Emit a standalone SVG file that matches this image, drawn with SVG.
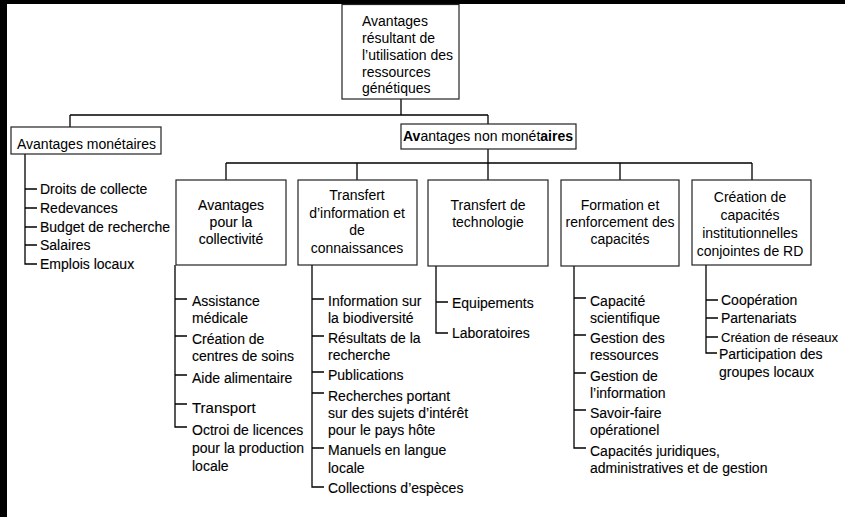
<svg xmlns="http://www.w3.org/2000/svg" width="845" height="517" viewBox="0 0 845 517">
<style>
text{font-family:"Liberation Sans",Arial,Helvetica,sans-serif;font-size:14px;fill:#000}
.c{text-anchor:middle}
.i{stroke:#000;stroke-width:0.12}
.box{fill:#fff;stroke:#222;stroke-width:1.2}
.ln{fill:none;stroke:#000;stroke-width:1.3}
</style>
<rect x="0" y="0" width="845" height="517" fill="#fff"/>
<rect x="0" y="0" width="7" height="517" fill="#000"/>
<rect x="0" y="0" width="845" height="4" fill="#000"/>

<g id="connectors" class="ln">
<path d="M401 99V115M70 115H488M70 115V127M488 115V124"/>
<path d="M488 149V163M226 163H752M226 163V180M357 163V180M488 163V180M620 163V180M752 163V180"/>
<path d="M25 154V264H37M25 189H37M25 208H37M25 227H37M25 245H37"/>
<path d="M175 265V427H187M175 299H187M175 336H187M175 375H187M175 404H187"/>
<path d="M312 265V487H324M312 299H324M312 336H324M312 372H324M312 393H324M312 448H324"/>
<path d="M436 266V333H448M436 302H448"/>
<path d="M574 266V448H586M574 298H586M574 335H586M574 373H586M574 410H586"/>
<path d="M706 265V353H717M706 300H718M706 318H718M706 337H718"/>
</g>

<g id="root">
<rect class="box" x="342" y="4.5" width="117" height="94.5"/>
<text x="362" y="26">Avantages</text>
<text x="362" y="43">résultant de</text>
<text x="362" y="60">l’utilisation des</text>
<text x="362" y="77">ressources</text>
<text x="362" y="93">génétiques</text>
</g>

<g id="monetaires">
<rect class="box" x="11" y="127" width="150" height="27"/>
<text x="17" y="149">Avantages monétaires</text>
<text class="i" x="40" y="194">Droits de collecte</text>
<text class="i" x="40" y="213">Redevances</text>
<text class="i" x="40" y="232">Budget de recherche</text>
<text class="i" x="40" y="250">Salaires</text>
<text class="i" x="40" y="269">Emplois locaux</text>
</g>

<g id="non-monetaires">
<rect class="box" x="401" y="124" width="175" height="25"/>
<text class="c" x="488" y="141"><tspan font-weight="bold">Av</tspan>antages non monét<tspan font-weight="bold">aires</tspan></text>
</g>

<g id="collectivite">
<rect class="box" x="176" y="180" width="110" height="85"/>
<text class="c i" x="231" y="210">Avantages</text>
<text class="c i" x="231" y="227">pour la</text>
<text class="c i" x="231" y="244">collectivité</text>
<text class="i" x="192" y="306">Assistance</text>
<text class="i" x="192" y="323">médicale</text>
<text class="i" x="192" y="344">Création de</text>
<text class="i" x="192" y="361">centres de soins</text>
<text class="i" x="192" y="383">Aide alimentaire</text>
<text class="i" x="192" y="413" style="font-size:15px">Transport</text>
<text class="i" x="192" y="435">Octroi de licences</text>
<text class="i" x="192" y="453">pour la production</text>
<text class="i" x="192" y="471">locale</text>
</g>

<g id="information">
<rect class="box" x="298" y="180" width="119" height="85"/>
<text class="c" x="357" y="200">Transfert</text>
<text class="c" x="357" y="217.5">d’information et</text>
<text class="c" x="357" y="235">de</text>
<text class="c" x="357" y="252.5">connaissances</text>
<text class="i" x="328" y="306">Information sur</text>
<text class="i" x="328" y="323">la biodiversité</text>
<text class="i" x="328" y="343">Résultats de la</text>
<text class="i" x="328" y="360">recherche</text>
<text class="i" x="328" y="380">Publications</text>
<text class="i" x="328" y="401">Recherches portant</text>
<text class="i" x="328" y="418">sur des sujets d’intérêt</text>
<text class="i" x="328" y="435">pour le pays hôte</text>
<text class="i" x="328" y="455">Manuels en langue</text>
<text class="i" x="328" y="473">locale</text>
<text class="i" x="328" y="493">Collections d’espèces</text>
</g>

<g id="technologie">
<rect class="box" x="428" y="180" width="120" height="86"/>
<text class="c" x="488" y="210">Transfert de</text>
<text class="c" x="488" y="227">technologie</text>
<text class="i" x="452" y="308">Equipements</text>
<text class="i" x="452" y="338">Laboratoires</text>
</g>

<g id="formation">
<rect class="box" x="561" y="180" width="118" height="86"/>
<text class="c" x="620" y="210">Formation et</text>
<text class="c" x="620" y="227">renforcement des</text>
<text class="c" x="620" y="244">capacités</text>
<text class="i" x="590" y="306">Capacité</text>
<text class="i" x="590" y="323">scientifique</text>
<text class="i" x="590" y="343">Gestion des</text>
<text class="i" x="590" y="360">ressources</text>
<text class="i" x="590" y="381">Gestion de</text>
<text class="i" x="590" y="398">l’information</text>
<text class="i" x="590" y="418">Savoir-faire</text>
<text class="i" x="590" y="435">opérationel</text>
<text class="i" x="590" y="456">Capacités juridiques,</text>
<text class="i" x="590" y="473">administratives et de gestion</text>
</g>

<g id="institutionnelles">
<rect class="box" x="692" y="180" width="119" height="85"/>
<text class="c" x="750" y="202">Création de</text>
<text class="c" x="750" y="220">capacités</text>
<text class="c" x="750" y="238">institutionnelles</text>
<text class="c" x="750" y="256">conjointes de RD</text>
<text class="i" x="721" y="305">Coopération</text>
<text class="i" x="721" y="323">Partenariats</text>
<text class="i" x="721" y="342" style="font-size:13px">Création de réseaux</text>
<text class="i" x="719" y="359">Participation des</text>
<text class="i" x="719" y="377">groupes locaux</text>
</g>
</svg>
